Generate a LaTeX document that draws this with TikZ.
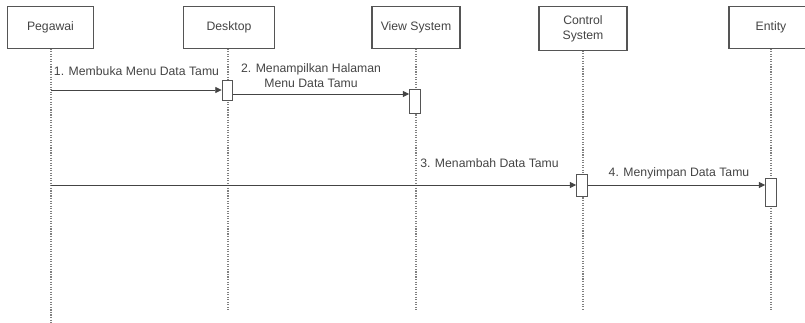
\documentclass[tikz,border=0pt]{standalone}
\usepackage{fontspec}
\setmainfont{Liberation Sans}
\usetikzlibrary{arrows.meta,positioning}
\definecolor{boxgray}{HTML}{555555}
\definecolor{txtgray}{HTML}{444444}
\tikzset{
    seq diagram/.style = {x=0.025cm, y=-0.025cm, >={Triangle[length=1.6mm, width=1.5mm]}},
    actor/.style       = {draw=boxgray, thick, fill=white, align=center,
                          text=txtgray, font=\fontsize{8.7}{10.5}\selectfont,
                          minimum width=2.15cm, minimum height=1.03cm},
    lifeline/.style    = {draw=gray, densely dotted, thick},
    activation/.style  = {draw=boxgray, semithick, fill=white,
                          minimum width=0.27cm, inner sep=0pt},
    msg/.style         = {draw=txtgray, semithick, ->},
    msglabel/.style    = {text=txtgray, align=center, inner sep=0pt,
                          font=\fontsize{8.7}{10.5}\selectfont}
}

\begin{document}
\begin{tikzpicture}[seq diagram]
\useasboundingbox (0,0) rectangle (805,323);

% ================= Lifeline heads =================
\node[actor] (pegawai) at (50.5, 27.5) {Pegawai};
\node[actor, minimum width=2.28cm] (desktop) at (229, 27.5) {Desktop};
\node[actor, minimum width=2.2cm] (view) at (416, 27.5) {View System};
\node[actor, minimum width=2.2cm, minimum height=1.08cm]
    (control) at (583, 28.5) {Control\\System};
\node[actor, minimum width=2.1cm] (entity) at (771, 27.5) {Entity};

% ================= Lifelines =================
\coordinate (pegawaiEnd) at (51, 323);
\coordinate (desktopEnd) at (228, 310);
\coordinate (viewEnd) at (416, 310);
\coordinate (controlEnd) at (583, 310);
\coordinate (entityEnd) at (771, 310);
\draw[lifeline] (pegawai.south -| pegawaiEnd) -- (pegawaiEnd);
\draw[lifeline] (desktop.south -| desktopEnd) -- (desktopEnd);
\draw[lifeline] (view.south -| viewEnd) -- (viewEnd);
\draw[lifeline] (control.south -| controlEnd) -- (controlEnd);
\draw[lifeline] (entity.south -| entityEnd) -- (entityEnd);

% ================= Activations =================
\node[activation, minimum height=0.48cm] (actDesktop) at (227.5, 90.5) {};
\node[activation, minimum height=0.6cm] (actView) at (415, 101) {};
\node[activation, minimum height=0.55cm] (actControl) at (582, 185) {};
\node[activation, minimum height=0.7cm] (actEntity) at (771, 192) {};

% ================= Messages =================
\coordinate (m1) at (51, 90);
\coordinate (m3) at (51, 185);
\draw[msg] (m1) -- (m1 -| actDesktop.west);
\node[msglabel] (l1) at (136.5, 71) {1. Membuka Menu Data Tamu};

\draw[msg] (actDesktop.east |- 0,94) -- (actView.west |- 0,94);
\node[msglabel] (l2) at (311, 75.5) {2. Menampilkan Halaman\\Menu Data Tamu};

\draw[msg] (m3) -- (m3 -| actControl.west);
\node[msglabel] (l3) at (489.5, 163) {3. Menambah Data Tamu};

\draw[msg] (actControl.east |- m3) -- (actEntity.west |- m3);
\node[msglabel] (l4) at (679, 173) {4. Menyimpan Data Tamu};

\end{tikzpicture}
\end{document}
